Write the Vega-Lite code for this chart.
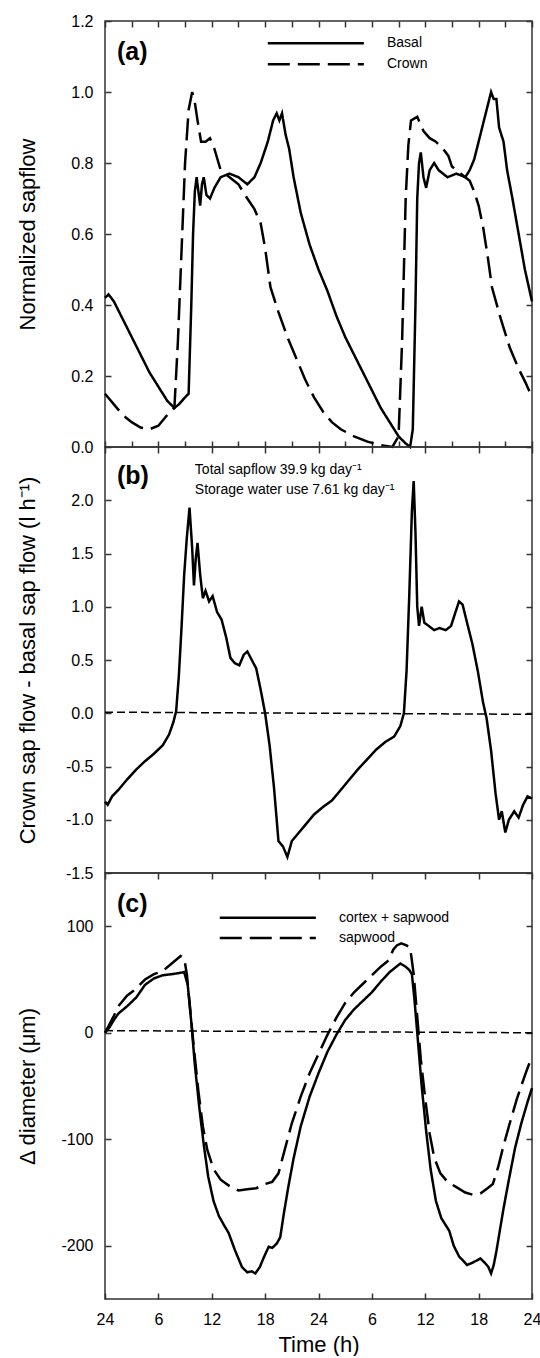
{
"$schema": "https://vega.github.io/schema/vega-lite/v6.json",
"background": "white",
"padding": {"left": 15, "top": 12, "right": 0, "bottom": 0},
"spacing": 0,
"bounds": "flush",
"datasets": {
"a": [
{"s":"Basal","t":0,"v":0.42},{"s":"Basal","t":0.4,"v":0.43},{"s":"Basal","t":1,"v":0.41},{"s":"Basal","t":2,"v":0.36},{"s":"Basal","t":3,"v":0.31},{"s":"Basal","t":4,"v":0.26},{"s":"Basal","t":5,"v":0.21},{"s":"Basal","t":6,"v":0.17},{"s":"Basal","t":7,"v":0.13},{"s":"Basal","t":7.8,"v":0.11},{"s":"Basal","t":8.3,"v":0.12},{"s":"Basal","t":9,"v":0.14},{"s":"Basal","t":9.4,"v":0.15},{"s":"Basal","t":9.7,"v":0.4},{"s":"Basal","t":9.9,"v":0.6},{"s":"Basal","t":10.1,"v":0.72},{"s":"Basal","t":10.3,"v":0.76},{"s":"Basal","t":10.5,"v":0.72},{"s":"Basal","t":10.7,"v":0.68},{"s":"Basal","t":10.9,"v":0.74},{"s":"Basal","t":11.1,"v":0.76},{"s":"Basal","t":11.4,"v":0.71},{"s":"Basal","t":11.8,"v":0.70},{"s":"Basal","t":12.3,"v":0.73},{"s":"Basal","t":13,"v":0.76},{"s":"Basal","t":14,"v":0.77},{"s":"Basal","t":15,"v":0.76},{"s":"Basal","t":16,"v":0.74},{"s":"Basal","t":16.8,"v":0.76},{"s":"Basal","t":17.5,"v":0.80},{"s":"Basal","t":18.3,"v":0.86},{"s":"Basal","t":18.9,"v":0.92},{"s":"Basal","t":19.3,"v":0.94},{"s":"Basal","t":19.6,"v":0.92},{"s":"Basal","t":19.9,"v":0.94},{"s":"Basal","t":20.3,"v":0.88},{"s":"Basal","t":20.7,"v":0.84},{"s":"Basal","t":21.2,"v":0.76},{"s":"Basal","t":22,"v":0.66},{"s":"Basal","t":23,"v":0.57},{"s":"Basal","t":24,"v":0.50},{"s":"Basal","t":25,"v":0.44},{"s":"Basal","t":26,"v":0.37},{"s":"Basal","t":27,"v":0.31},{"s":"Basal","t":28,"v":0.26},{"s":"Basal","t":29,"v":0.21},{"s":"Basal","t":30,"v":0.16},{"s":"Basal","t":31,"v":0.11},{"s":"Basal","t":32,"v":0.07},{"s":"Basal","t":33,"v":0.03},{"s":"Basal","t":33.8,"v":0.01},{"s":"Basal","t":34.3,"v":0.0},{"s":"Basal","t":34.6,"v":0.05},{"s":"Basal","t":34.9,"v":0.4},{"s":"Basal","t":35.1,"v":0.7},{"s":"Basal","t":35.3,"v":0.80},{"s":"Basal","t":35.5,"v":0.83},{"s":"Basal","t":35.8,"v":0.76},{"s":"Basal","t":36.1,"v":0.73},{"s":"Basal","t":36.5,"v":0.78},{"s":"Basal","t":37,"v":0.80},{"s":"Basal","t":37.5,"v":0.78},{"s":"Basal","t":38.5,"v":0.76},{"s":"Basal","t":39.5,"v":0.77},{"s":"Basal","t":40.5,"v":0.76},{"s":"Basal","t":41,"v":0.78},{"s":"Basal","t":41.5,"v":0.81},{"s":"Basal","t":42.1,"v":0.87},{"s":"Basal","t":42.7,"v":0.93},{"s":"Basal","t":43.1,"v":0.97},{"s":"Basal","t":43.4,"v":1.0},{"s":"Basal","t":43.7,"v":0.98},{"s":"Basal","t":44.0,"v":0.98},{"s":"Basal","t":44.3,"v":0.90},{"s":"Basal","t":44.8,"v":0.86},{"s":"Basal","t":45.2,"v":0.78},{"s":"Basal","t":45.8,"v":0.70},{"s":"Basal","t":46.5,"v":0.60},{"s":"Basal","t":47.2,"v":0.50},{"s":"Basal","t":48,"v":0.41},
{"s":"Crown","t":0,"v":0.15},{"s":"Crown","t":1,"v":0.12},{"s":"Crown","t":2,"v":0.09},{"s":"Crown","t":3,"v":0.07},{"s":"Crown","t":4,"v":0.055},{"s":"Crown","t":5,"v":0.05},{"s":"Crown","t":6,"v":0.06},{"s":"Crown","t":7,"v":0.09},{"s":"Crown","t":7.8,"v":0.11},{"s":"Crown","t":8.2,"v":0.3},{"s":"Crown","t":8.6,"v":0.55},{"s":"Crown","t":9.0,"v":0.8},{"s":"Crown","t":9.4,"v":0.95},{"s":"Crown","t":9.8,"v":1.0},{"s":"Crown","t":10.1,"v":0.97},{"s":"Crown","t":10.4,"v":0.92},{"s":"Crown","t":10.8,"v":0.86},{"s":"Crown","t":11.3,"v":0.86},{"s":"Crown","t":11.8,"v":0.87},{"s":"Crown","t":12.3,"v":0.84},{"s":"Crown","t":13,"v":0.78},{"s":"Crown","t":14,"v":0.76},{"s":"Crown","t":15,"v":0.74},{"s":"Crown","t":16,"v":0.70},{"s":"Crown","t":16.8,"v":0.67},{"s":"Crown","t":17.5,"v":0.63},{"s":"Crown","t":18,"v":0.56},{"s":"Crown","t":18.6,"v":0.45},{"s":"Crown","t":19.5,"v":0.38},{"s":"Crown","t":20.5,"v":0.31},{"s":"Crown","t":21.5,"v":0.25},{"s":"Crown","t":22.5,"v":0.19},{"s":"Crown","t":23.5,"v":0.14},{"s":"Crown","t":24.5,"v":0.10},{"s":"Crown","t":25.5,"v":0.07},{"s":"Crown","t":26.5,"v":0.05},{"s":"Crown","t":28,"v":0.03},{"s":"Crown","t":29.5,"v":0.015},{"s":"Crown","t":31,"v":0.005},{"s":"Crown","t":32.3,"v":0.0},{"s":"Crown","t":33,"v":0.03},{"s":"Crown","t":33.4,"v":0.3},{"s":"Crown","t":33.8,"v":0.7},{"s":"Crown","t":34.1,"v":0.85},{"s":"Crown","t":34.4,"v":0.92},{"s":"Crown","t":35.1,"v":0.93},{"s":"Crown","t":35.8,"v":0.89},{"s":"Crown","t":36.5,"v":0.87},{"s":"Crown","t":37.2,"v":0.86},{"s":"Crown","t":38,"v":0.84},{"s":"Crown","t":38.6,"v":0.82},{"s":"Crown","t":39,"v":0.79},{"s":"Crown","t":40,"v":0.77},{"s":"Crown","t":41,"v":0.75},{"s":"Crown","t":41.5,"v":0.72},{"s":"Crown","t":42,"v":0.68},{"s":"Crown","t":42.5,"v":0.62},{"s":"Crown","t":43,"v":0.54},{"s":"Crown","t":43.5,"v":0.45},{"s":"Crown","t":44.5,"v":0.36},{"s":"Crown","t":45.5,"v":0.28},{"s":"Crown","t":46.5,"v":0.22},{"s":"Crown","t":47.3,"v":0.18},{"s":"Crown","t":48,"v":0.14}
],
"b": [
{"t":0,"v":-0.83},{"t":0.3,"v":-0.86},{"t":0.8,"v":-0.78},{"t":1.5,"v":-0.72},{"t":2.5,"v":-0.62},{"t":3.5,"v":-0.53},{"t":4.5,"v":-0.45},{"t":5.5,"v":-0.38},{"t":6.5,"v":-0.30},{"t":7.2,"v":-0.20},{"t":7.7,"v":-0.08},{"t":8.0,"v":0.02},{"t":8.3,"v":0.35},{"t":8.6,"v":0.8},{"t":8.9,"v":1.3},{"t":9.2,"v":1.65},{"t":9.5,"v":1.93},{"t":9.8,"v":1.55},{"t":10.0,"v":1.2},{"t":10.2,"v":1.45},{"t":10.4,"v":1.6},{"t":10.7,"v":1.3},{"t":11.0,"v":1.08},{"t":11.3,"v":1.15},{"t":11.7,"v":1.05},{"t":12.1,"v":1.1},{"t":12.6,"v":0.95},{"t":13.1,"v":0.88},{"t":13.6,"v":0.72},{"t":14.1,"v":0.52},{"t":14.6,"v":0.47},{"t":15.1,"v":0.45},{"t":15.6,"v":0.55},{"t":16.0,"v":0.58},{"t":16.5,"v":0.50},{"t":17.0,"v":0.42},{"t":17.5,"v":0.22},{"t":18.0,"v":0.0},{"t":18.5,"v":-0.3},{"t":19.0,"v":-0.7},{"t":19.5,"v":-1.2},{"t":20.0,"v":-1.25},{"t":20.5,"v":-1.35},{"t":21.0,"v":-1.2},{"t":21.5,"v":-1.15},{"t":22.5,"v":-1.05},{"t":23.5,"v":-0.95},{"t":24.5,"v":-0.88},{"t":25.5,"v":-0.82},{"t":26.5,"v":-0.72},{"t":27.5,"v":-0.62},{"t":28.5,"v":-0.52},{"t":29.5,"v":-0.43},{"t":30.5,"v":-0.34},{"t":31.5,"v":-0.27},{"t":32.5,"v":-0.22},{"t":33.2,"v":-0.12},{"t":33.6,"v":0.0},{"t":33.9,"v":0.4},{"t":34.2,"v":1.1},{"t":34.5,"v":1.9},{"t":34.7,"v":2.18},{"t":34.9,"v":1.7},{"t":35.1,"v":1.0},{"t":35.3,"v":0.82},{"t":35.6,"v":1.0},{"t":35.9,"v":0.85},{"t":36.4,"v":0.82},{"t":37,"v":0.78},{"t":37.6,"v":0.8},{"t":38.3,"v":0.78},{"t":38.9,"v":0.82},{"t":39.4,"v":0.95},{"t":39.8,"v":1.05},{"t":40.2,"v":1.02},{"t":40.7,"v":0.85},{"t":41.3,"v":0.65},{"t":41.9,"v":0.4},{"t":42.5,"v":0.1},{"t":42.9,"v":-0.05},{"t":43.4,"v":-0.35},{"t":43.9,"v":-0.75},{"t":44.3,"v":-1.0},{"t":44.6,"v":-0.92},{"t":45.0,"v":-1.12},{"t":45.4,"v":-1.0},{"t":46.0,"v":-0.92},{"t":46.5,"v":-0.98},{"t":47.0,"v":-0.86},{"t":47.5,"v":-0.78},{"t":48,"v":-0.8}
],
"b0": [{"t":0,"v":0.01},{"t":48,"v":-0.01}],
"c": [
{"s":"cortex + sapwood","t":0,"v":0},{"s":"cortex + sapwood","t":0.5,"v":5},{"s":"cortex + sapwood","t":1,"v":12},{"s":"cortex + sapwood","t":1.5,"v":18},{"s":"cortex + sapwood","t":2.5,"v":25},{"s":"cortex + sapwood","t":3.5,"v":33},{"s":"cortex + sapwood","t":4.5,"v":45},{"s":"cortex + sapwood","t":5.5,"v":51},{"s":"cortex + sapwood","t":6.5,"v":54},{"s":"cortex + sapwood","t":7.5,"v":55},{"s":"cortex + sapwood","t":8.3,"v":56},{"s":"cortex + sapwood","t":8.9,"v":57},{"s":"cortex + sapwood","t":9.3,"v":45},{"s":"cortex + sapwood","t":9.7,"v":10},{"s":"cortex + sapwood","t":10.1,"v":-30},{"s":"cortex + sapwood","t":10.6,"v":-70},{"s":"cortex + sapwood","t":11.1,"v":-105},{"s":"cortex + sapwood","t":11.6,"v":-135},{"s":"cortex + sapwood","t":12.2,"v":-158},{"s":"cortex + sapwood","t":12.8,"v":-172},{"s":"cortex + sapwood","t":13.4,"v":-181},{"s":"cortex + sapwood","t":13.9,"v":-188},{"s":"cortex + sapwood","t":14.6,"v":-204},{"s":"cortex + sapwood","t":15.4,"v":-220},{"s":"cortex + sapwood","t":16.0,"v":-225},{"s":"cortex + sapwood","t":16.5,"v":-224},{"s":"cortex + sapwood","t":16.9,"v":-226},{"s":"cortex + sapwood","t":17.4,"v":-220},{"s":"cortex + sapwood","t":17.9,"v":-210},{"s":"cortex + sapwood","t":18.4,"v":-201},{"s":"cortex + sapwood","t":18.8,"v":-202},{"s":"cortex + sapwood","t":19.3,"v":-198},{"s":"cortex + sapwood","t":19.7,"v":-192},{"s":"cortex + sapwood","t":20.1,"v":-170},{"s":"cortex + sapwood","t":20.6,"v":-145},{"s":"cortex + sapwood","t":21.2,"v":-118},{"s":"cortex + sapwood","t":22,"v":-88},{"s":"cortex + sapwood","t":23,"v":-60},{"s":"cortex + sapwood","t":24,"v":-38},{"s":"cortex + sapwood","t":25,"v":-18},{"s":"cortex + sapwood","t":26,"v":-2},{"s":"cortex + sapwood","t":27,"v":12},{"s":"cortex + sapwood","t":28,"v":22},{"s":"cortex + sapwood","t":29,"v":30},{"s":"cortex + sapwood","t":30,"v":38},{"s":"cortex + sapwood","t":31,"v":48},{"s":"cortex + sapwood","t":32,"v":57},{"s":"cortex + sapwood","t":33.2,"v":65},{"s":"cortex + sapwood","t":33.8,"v":62},{"s":"cortex + sapwood","t":34.2,"v":59},{"s":"cortex + sapwood","t":34.5,"v":55},{"s":"cortex + sapwood","t":34.8,"v":30},{"s":"cortex + sapwood","t":35.2,"v":-10},{"s":"cortex + sapwood","t":35.6,"v":-50},{"s":"cortex + sapwood","t":36.1,"v":-92},{"s":"cortex + sapwood","t":36.6,"v":-128},{"s":"cortex + sapwood","t":37.2,"v":-158},{"s":"cortex + sapwood","t":37.8,"v":-174},{"s":"cortex + sapwood","t":38.7,"v":-186},{"s":"cortex + sapwood","t":39.2,"v":-200},{"s":"cortex + sapwood","t":39.8,"v":-210},{"s":"cortex + sapwood","t":40.7,"v":-218},{"s":"cortex + sapwood","t":41.3,"v":-216},{"s":"cortex + sapwood","t":42.2,"v":-212},{"s":"cortex + sapwood","t":42.7,"v":-216},{"s":"cortex + sapwood","t":43.1,"v":-220},{"s":"cortex + sapwood","t":43.4,"v":-226},{"s":"cortex + sapwood","t":43.7,"v":-218},{"s":"cortex + sapwood","t":44.0,"v":-205},{"s":"cortex + sapwood","t":44.3,"v":-190},{"s":"cortex + sapwood","t":44.8,"v":-165},{"s":"cortex + sapwood","t":45.4,"v":-138},{"s":"cortex + sapwood","t":46.1,"v":-108},{"s":"cortex + sapwood","t":46.8,"v":-85},{"s":"cortex + sapwood","t":47.5,"v":-65},{"s":"cortex + sapwood","t":48,"v":-52},
{"s":"sapwood","t":0,"v":0},{"s":"sapwood","t":0.5,"v":8},{"s":"sapwood","t":1,"v":16},{"s":"sapwood","t":1.5,"v":25},{"s":"sapwood","t":2.5,"v":35},{"s":"sapwood","t":3.3,"v":40},{"s":"sapwood","t":4.5,"v":50},{"s":"sapwood","t":5.5,"v":55},{"s":"sapwood","t":6.5,"v":58},{"s":"sapwood","t":7.5,"v":65},{"s":"sapwood","t":8.5,"v":72},{"s":"sapwood","t":8.9,"v":70},{"s":"sapwood","t":9.2,"v":55},{"s":"sapwood","t":9.6,"v":20},{"s":"sapwood","t":10.0,"v":-15},{"s":"sapwood","t":10.5,"v":-55},{"s":"sapwood","t":11,"v":-88},{"s":"sapwood","t":11.5,"v":-110},{"s":"sapwood","t":12.2,"v":-128},{"s":"sapwood","t":13,"v":-138},{"s":"sapwood","t":14,"v":-144},{"s":"sapwood","t":15,"v":-148},{"s":"sapwood","t":16,"v":-147},{"s":"sapwood","t":17,"v":-146},{"s":"sapwood","t":18,"v":-142},{"s":"sapwood","t":18.8,"v":-140},{"s":"sapwood","t":19.5,"v":-132},{"s":"sapwood","t":20.2,"v":-110},{"s":"sapwood","t":21,"v":-85},{"s":"sapwood","t":22,"v":-60},{"s":"sapwood","t":23,"v":-38},{"s":"sapwood","t":24,"v":-20},{"s":"sapwood","t":25,"v":-2},{"s":"sapwood","t":26,"v":14},{"s":"sapwood","t":27,"v":28},{"s":"sapwood","t":28,"v":38},{"s":"sapwood","t":29,"v":46},{"s":"sapwood","t":30,"v":54},{"s":"sapwood","t":31,"v":62},{"s":"sapwood","t":31.9,"v":68},{"s":"sapwood","t":32.4,"v":78},{"s":"sapwood","t":32.8,"v":82},{"s":"sapwood","t":33.3,"v":84},{"s":"sapwood","t":33.9,"v":82},{"s":"sapwood","t":34.3,"v":80},{"s":"sapwood","t":34.7,"v":55},{"s":"sapwood","t":35.1,"v":15},{"s":"sapwood","t":35.5,"v":-25},{"s":"sapwood","t":36,"v":-62},{"s":"sapwood","t":36.5,"v":-95},{"s":"sapwood","t":37,"v":-117},{"s":"sapwood","t":37.7,"v":-132},{"s":"sapwood","t":38.5,"v":-140},{"s":"sapwood","t":39.5,"v":-145},{"s":"sapwood","t":40.5,"v":-150},{"s":"sapwood","t":41.3,"v":-152},{"s":"sapwood","t":42.2,"v":-151},{"s":"sapwood","t":43,"v":-146},{"s":"sapwood","t":43.6,"v":-142},{"s":"sapwood","t":44.2,"v":-126},{"s":"sapwood","t":44.8,"v":-106},{"s":"sapwood","t":45.5,"v":-85},{"s":"sapwood","t":46.3,"v":-62},{"s":"sapwood","t":47.2,"v":-40},{"s":"sapwood","t":48,"v":-22}
],
"c0": [{"t":0,"v":2},{"t":48,"v":0}],
"one": [{"k":1}]
},
"vconcat": [
{
"width": 427, "height": 426,
"resolve": {"axis": {"x": "independent", "y": "independent"}},
"layer": [
{"data": {"name": "a"},
 "mark": {"type": "line", "color": "black", "strokeWidth": 2.5},
 "encoding": {
  "x": {"field": "t", "type": "quantitative", "scale": {"domain": [0, 48], "nice": false, "zero": false},
        "axis": {"orient": "bottom", "values": [0,3,6,9,12,15,18,21,24,27,30,33,36,39,42,45,48], "labels": false, "title": null}},
  "y": {"field": "v", "type": "quantitative", "scale": {"domain": [0, 1.2], "nice": false, "zero": false},
        "axis": {"orient": "left", "values": [0,0.2,0.4,0.6,0.8,1.0,1.2], "format": ".1f", "title": "Normalized sapflow", "titleX": -78, "titleBaseline": "middle"}},
  "strokeDash": {"field": "s", "type": "nominal", "scale": {"domain": ["Basal", "Crown"], "range": [[1, 0], [22, 8]]}, "legend": null}
 }},
{"data": {"name": "one"},
 "mark": {"type": "rule", "color": "black", "strokeWidth": 2.5},
 "encoding": {
  "x": {"datum": 18.3, "type": "quantitative", "scale": {"domain": [0, 48], "nice": false, "zero": false},
        "axis": {"orient": "top", "values": [0,3,6,9,12,15,18,21,24,27,30,33,36,39,42,45,48], "labels": false, "title": null}},
  "x2": {"datum": 29.1},
  "y": {"datum": 1.137, "type": "quantitative", "scale": {"domain": [0, 1.2], "nice": false, "zero": false},
        "axis": {"orient": "right", "values": [0,0.2,0.4,0.6,0.8,1.0,1.2], "labels": false, "title": null}}
 }},
{"data": {"name": "one"},
 "mark": {"type": "rule", "color": "black", "strokeWidth": 2.5, "strokeDash": [22, 8]},
 "encoding": {
  "x": {"datum": 18.3, "type": "quantitative", "scale": {"domain": [0, 48], "nice": false, "zero": false}, "axis": null},
  "x2": {"datum": 29.1},
  "y": {"datum": 1.078, "type": "quantitative", "scale": {"domain": [0, 1.2], "nice": false, "zero": false}, "axis": null}
 }},
{"data": {"name": "one"},
 "mark": {"type": "text", "text": "Basal", "align": "left", "baseline": "middle", "fontSize": 14, "font": "Liberation Sans", "color": "black"},
 "encoding": {
  "x": {"datum": 31.7, "type": "quantitative", "scale": {"domain": [0, 48], "nice": false, "zero": false}, "axis": null},
  "y": {"datum": 1.137, "type": "quantitative", "scale": {"domain": [0, 1.2], "nice": false, "zero": false}, "axis": null}
 }},
{"data": {"name": "one"},
 "mark": {"type": "text", "text": "Crown", "align": "left", "baseline": "middle", "fontSize": 14, "font": "Liberation Sans", "color": "black"},
 "encoding": {
  "x": {"datum": 31.7, "type": "quantitative", "scale": {"domain": [0, 48], "nice": false, "zero": false}, "axis": null},
  "y": {"datum": 1.078, "type": "quantitative", "scale": {"domain": [0, 1.2], "nice": false, "zero": false}, "axis": null}
 }},
{"data": {"name": "one"},
 "mark": {"type": "text", "text": "(a)", "align": "left", "baseline": "middle", "fontSize": 25, "fontWeight": "bold", "font": "Liberation Sans", "color": "black"},
 "encoding": {
  "x": {"datum": 1.35, "type": "quantitative", "scale": {"domain": [0, 48], "nice": false, "zero": false}, "axis": null},
  "y": {"datum": 1.113, "type": "quantitative", "scale": {"domain": [0, 1.2], "nice": false, "zero": false}, "axis": null}
 }}
]
},
{
"width": 427, "height": 426,
"resolve": {"axis": {"x": "independent", "y": "independent"}},
"layer": [
{"data": {"name": "b"},
 "mark": {"type": "line", "color": "black", "strokeWidth": 2.5},
 "encoding": {
  "x": {"field": "t", "type": "quantitative", "scale": {"domain": [0, 48], "nice": false, "zero": false},
        "axis": {"orient": "top", "values": [0,6,12,18,24,30,36,42,48], "labels": false, "title": null}},
  "y": {"field": "v", "type": "quantitative", "scale": {"domain": [-1.5, 2.5], "nice": false, "zero": false},
        "axis": {"orient": "left", "values": [-1.5,-1,-0.5,0,0.5,1,1.5,2], "format": ".1f", "title": "Crown sap flow - basal sap flow (l h⁻¹)", "titleX": -78, "titleBaseline": "middle"}}
 }},
{"data": {"name": "b0"},
 "mark": {"type": "line", "color": "black", "strokeWidth": 1.5, "strokeDash": [8, 4]},
 "encoding": {
  "x": {"field": "t", "type": "quantitative", "scale": {"domain": [0, 48], "nice": false, "zero": false}, "axis": null},
  "y": {"field": "v", "type": "quantitative", "scale": {"domain": [-1.5, 2.5], "nice": false, "zero": false},
        "axis": {"orient": "right", "values": [-1.5,-1,-0.5,0,0.5,1,1.5,2], "labels": false, "title": null}}
 }},
{"data": {"name": "one"},
 "mark": {"type": "text", "text": "Total sapflow 39.9 kg day⁻¹", "align": "left", "baseline": "alphabetic", "fontSize": 14, "font": "Liberation Sans", "color": "black"},
 "encoding": {
  "x": {"datum": 10.1, "type": "quantitative", "scale": {"domain": [0, 48], "nice": false, "zero": false}, "axis": null},
  "y": {"datum": 2.247, "type": "quantitative", "scale": {"domain": [-1.5, 2.5], "nice": false, "zero": false}, "axis": null}
 }},
{"data": {"name": "one"},
 "mark": {"type": "text", "text": "Storage water use 7.61 kg day⁻¹", "align": "left", "baseline": "alphabetic", "fontSize": 14, "font": "Liberation Sans", "color": "black"},
 "encoding": {
  "x": {"datum": 10.1, "type": "quantitative", "scale": {"domain": [0, 48], "nice": false, "zero": false}, "axis": null},
  "y": {"datum": 2.06, "type": "quantitative", "scale": {"domain": [-1.5, 2.5], "nice": false, "zero": false}, "axis": null}
 }},
{"data": {"name": "one"},
 "mark": {"type": "text", "text": "(b)", "align": "left", "baseline": "middle", "fontSize": 25, "fontWeight": "bold", "font": "Liberation Sans", "color": "black"},
 "encoding": {
  "x": {"datum": 1.35, "type": "quantitative", "scale": {"domain": [0, 48], "nice": false, "zero": false}, "axis": null},
  "y": {"datum": 2.228, "type": "quantitative", "scale": {"domain": [-1.5, 2.5], "nice": false, "zero": false}, "axis": null}
 }}
]
},
{
"width": 427, "height": 426,
"resolve": {"axis": {"x": "independent", "y": "independent"}},
"layer": [
{"data": {"name": "c"},
 "mark": {"type": "line", "color": "black", "strokeWidth": 2.5},
 "encoding": {
  "x": {"field": "t", "type": "quantitative", "scale": {"domain": [0, 48], "nice": false, "zero": false},
        "axis": {"orient": "bottom", "values": [0,6,12,18,24,30,36,42,48], "labelExpr": "datum.value % 24 == 0 ? '24' : '' + (datum.value % 24)", "title": "Time (h)", "titlePadding": 7}},
  "y": {"field": "v", "type": "quantitative", "scale": {"domain": [-250, 150], "nice": false, "zero": false},
        "axis": {"orient": "left", "values": [-200,-100,0,100], "format": "d", "title": "Δ diameter (μm)", "titleX": -78, "titleBaseline": "middle"}},
  "strokeDash": {"field": "s", "type": "nominal", "scale": {"domain": ["cortex + sapwood", "sapwood"], "range": [[1, 0], [22, 8]]}, "legend": null}
 }},
{"data": {"name": "c0"},
 "mark": {"type": "line", "color": "black", "strokeWidth": 1.5, "strokeDash": [8, 4]},
 "encoding": {
  "x": {"field": "t", "type": "quantitative", "scale": {"domain": [0, 48], "nice": false, "zero": false},
        "axis": {"orient": "top", "values": [0,6,12,18,24,30,36,42,48], "labels": false, "title": null}},
  "y": {"field": "v", "type": "quantitative", "scale": {"domain": [-250, 150], "nice": false, "zero": false},
        "axis": {"orient": "right", "values": [-200,-100,0,100], "labels": false, "title": null}}
 }},
{"data": {"name": "one"},
 "mark": {"type": "rule", "color": "black", "strokeWidth": 2.5},
 "encoding": {
  "x": {"datum": 12.9, "type": "quantitative", "scale": {"domain": [0, 48], "nice": false, "zero": false}, "axis": null},
  "x2": {"datum": 23.7},
  "y": {"datum": 108, "type": "quantitative", "scale": {"domain": [-250, 150], "nice": false, "zero": false}, "axis": null}
 }},
{"data": {"name": "one"},
 "mark": {"type": "rule", "color": "black", "strokeWidth": 2.5, "strokeDash": [22, 8]},
 "encoding": {
  "x": {"datum": 12.9, "type": "quantitative", "scale": {"domain": [0, 48], "nice": false, "zero": false}, "axis": null},
  "x2": {"datum": 23.7},
  "y": {"datum": 89, "type": "quantitative", "scale": {"domain": [-250, 150], "nice": false, "zero": false}, "axis": null}
 }},
{"data": {"name": "one"},
 "mark": {"type": "text", "text": "cortex + sapwood", "align": "left", "baseline": "middle", "fontSize": 14, "font": "Liberation Sans", "color": "black"},
 "encoding": {
  "x": {"datum": 26.3, "type": "quantitative", "scale": {"domain": [0, 48], "nice": false, "zero": false}, "axis": null},
  "y": {"datum": 108, "type": "quantitative", "scale": {"domain": [-250, 150], "nice": false, "zero": false}, "axis": null}
 }},
{"data": {"name": "one"},
 "mark": {"type": "text", "text": "sapwood", "align": "left", "baseline": "middle", "fontSize": 14, "font": "Liberation Sans", "color": "black"},
 "encoding": {
  "x": {"datum": 26.3, "type": "quantitative", "scale": {"domain": [0, 48], "nice": false, "zero": false}, "axis": null},
  "y": {"datum": 89, "type": "quantitative", "scale": {"domain": [-250, 150], "nice": false, "zero": false}, "axis": null}
 }},
{"data": {"name": "one"},
 "mark": {"type": "text", "text": "(c)", "align": "left", "baseline": "middle", "fontSize": 25, "fontWeight": "bold", "font": "Liberation Sans", "color": "black"},
 "encoding": {
  "x": {"datum": 1.35, "type": "quantitative", "scale": {"domain": [0, 48], "nice": false, "zero": false}, "axis": null},
  "y": {"datum": 121, "type": "quantitative", "scale": {"domain": [-250, 150], "nice": false, "zero": false}, "axis": null}
 }}
]
}
],
"config": {
 "font": "Liberation Sans",
 "locale": {"number": {"decimal": ".", "thousands": ",", "grouping": [3], "currency": ["$", ""], "minus": "-"}},
 "view": {"stroke": "#333333", "strokeWidth": 1.5},
 "axis": {"domain": false, "grid": false, "tickColor": "#333333", "tickWidth": 1.5, "tickSize": -6, "labelFont": "Liberation Sans", "labelFontSize": 16, "labelColor": "black", "labelPadding": 18, "labelFlush": false, "labelOverlap": false, "titleFont": "Liberation Sans", "titleFontSize": 22, "titleFontWeight": "normal", "titleColor": "black"}
}
}
